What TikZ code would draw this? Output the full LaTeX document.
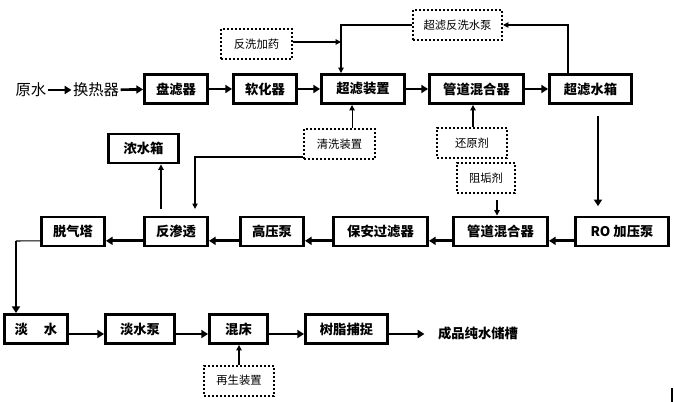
\documentclass[tikz,border=0pt]{standalone}
\usepackage{fontspec}
\setmainfont{Liberation Serif}
\newfontfamily\cjk{Noto Sans CJK SC}
\usetikzlibrary{arrows.meta,calc}
\tikzset{
  unit/.style={draw,line width=2.2pt,inner sep=0pt,minimum height=29*0.75pt,
    font=\cjk\bfseries\fontsize{10}{12}\selectfont},
  addbox/.style={draw,line width=1.5pt,dash pattern=on 1.5pt off 1.5pt,inner sep=0pt,
    minimum height=30*0.75pt,font=\cjk\fontsize{8.5}{10}\selectfont},
  wd/.style={minimum width=#1*0.75pt},
  plain/.style={inner sep=1pt,font=\cjk\fontsize{11.5}{13}\selectfont},
  flow/.style={line width=2pt,-{Triangle[length=5pt,width=6pt]}},
  feed/.style={line width=0.8pt,-{Triangle[length=4pt,width=4pt]}},
}
\begin{document}
\begin{tikzpicture}[x=0.75pt,y=-0.75pt]
  \useasboundingbox (0,0) rectangle (674,402);
  % first line
  \node[plain] (raw) at (31,90) {原水};
  \node[plain] (hx) at (96,90) {换热器};
  \node[unit,wd=63] (pan) at (176,89) {盘滤器};
  \node[unit,wd=63] (soft) at (265,89) {软化器};
  \node[unit,wd=83] (uf) at (363,89) {超滤装置};
  \node[unit,wd=94] (mixa) at (476.5,89) {管道混合器};
  \node[unit,wd=82] (uftank) at (590.5,89) {超滤水箱};
  % dosing, cleaning, backwash
  \node[addbox,wd=71] (dose) at (256.5,44) {反洗加药};
  \node[addbox,wd=89] (ufpump) at (457.5,25) {超滤反洗水泵};
  \node[addbox,wd=71] (clean) at (339.5,144) {清洗装置};
  \node[addbox,wd=70] (reduct) at (472,143.5) {还原剂};
  \node[addbox,wd=58] (antiscal) at (486,178.5) {阻垢剂};
  \node[unit,wd=70] (brine) at (143.5,148.5) {浓水箱};
  % second line
  \node[unit,wd=63] (degas) at (73,231.5) {脱气塔};
  \node[unit,wd=63] (ro) at (176,231.5) {反渗透};
  \node[unit,wd=63] (hpump) at (272,231.5) {高压泵};
  \node[unit,wd=94] (guard) at (380.5,231.5) {保安过滤器};
  \node[unit,wd=94] (mixb) at (500.5,231.5) {管道混合器};
  \node[unit,wd=93] (ropump) at (622,231.5) {RO 加压泵};
  % third line
  \node[unit,wd=63] (fresh) at (36,329) {淡\hspace{1.2em}水};
  \node[unit,wd=69] (fpump) at (140,329) {淡水泵};
  \node[unit,wd=58] (bed) at (238.5,329) {混床};
  \node[unit,wd=82] (resin) at (346.5,329) {树脂捕捉};
  \node[inner sep=1pt,font=\cjk\bfseries\fontsize{10}{12}\selectfont] (store) at (478,333) {成品纯水储槽};
  \node[addbox,wd=70] (regen) at (239,380.5) {再生装置};

  \draw[flow] (raw) -- (hx);
  \draw[flow] (hx) -- (pan);
  \draw[flow] (pan) -- (soft);
  \draw[flow] (soft) -- (uf);
  \draw[flow] (uf) -- (mixa);
  \draw[flow] (mixa) -- (uftank);
  % backwash loop over the top
  \coordinate (drop) at ($(uf.north)+(-22,0)$);
  \draw[feed] ([xshift=-16.9pt]uftank.north) |- (ufpump.east);
  \draw[feed] (ufpump.west) -| (drop);
  \draw[feed] ([yshift=1.5pt]dose.east) -- ([yshift=1.5pt]dose.east -| drop);
  \draw[feed] ([xshift=9.4pt]clean.north) -- ([xshift=9.4pt]clean.north |- uf.south);
  \draw[feed,shorten >=5pt] ([yshift=-9.75pt]clean.west) -| ([xshift=14.25pt]ro.north);
  \draw[feed,shorten <=5pt] ([xshift=-11.25pt]ro.north) -- ([xshift=-11.25pt]ro.north |- brine.south);
  \draw[feed] ([xshift=0.75pt]reduct.north) -- ([xshift=0.75pt]reduct.north |- mixa.south);
  \draw[feed,shorten <=4pt] ([xshift=8.25pt]antiscal.south) -- ([xshift=8.25pt]antiscal.south |- mixb.north);
  \draw[flow,shorten <=8pt,shorten >=7pt] ([xshift=5.6pt]uftank.south) -- ([xshift=5.6pt]uftank.south |- ropump.north);
  % second line runs right to left
  \draw[flow] ([yshift=-7pt]ropump.west) -- ([yshift=-7pt]mixb.east);
  \draw[flow] ([yshift=-7pt]mixb.west) -- ([yshift=-7pt]guard.east);
  \draw[flow] ([yshift=-7pt]guard.west) -- ([yshift=-7pt]hpump.east);
  \draw[flow] ([yshift=-7pt]hpump.west) -- ([yshift=-7pt]ro.east);
  \draw[flow] ([yshift=-7pt]ro.west) -- ([yshift=-7pt]degas.east);
  \coordinate (bend) at (16,241);
  \draw[line width=0.8pt] ([yshift=-7pt]degas.west) -- (bend);
  \draw[flow] (bend) -- (bend |- fresh.north);
  % third line
  \draw[flow] ([yshift=-3.75pt]fresh.east) -- ([yshift=-3.75pt]fpump.west);
  \draw[flow] ([yshift=-3.75pt]fpump.east) -- ([yshift=-3.75pt]bed.west);
  \draw[flow] ([yshift=-3.75pt]bed.east) -- ([yshift=-3.75pt]resin.west);
  \draw[flow,shorten >=9pt] ([yshift=-3.75pt]resin.east) -- ([yshift=-3.75pt]resin.east -| store.west);
  \draw[feed] (regen.north) -- (regen.north |- bed.south);
  \draw[line width=0.8pt] (672,388) -- (672,402);
\end{tikzpicture}
\end{document}
